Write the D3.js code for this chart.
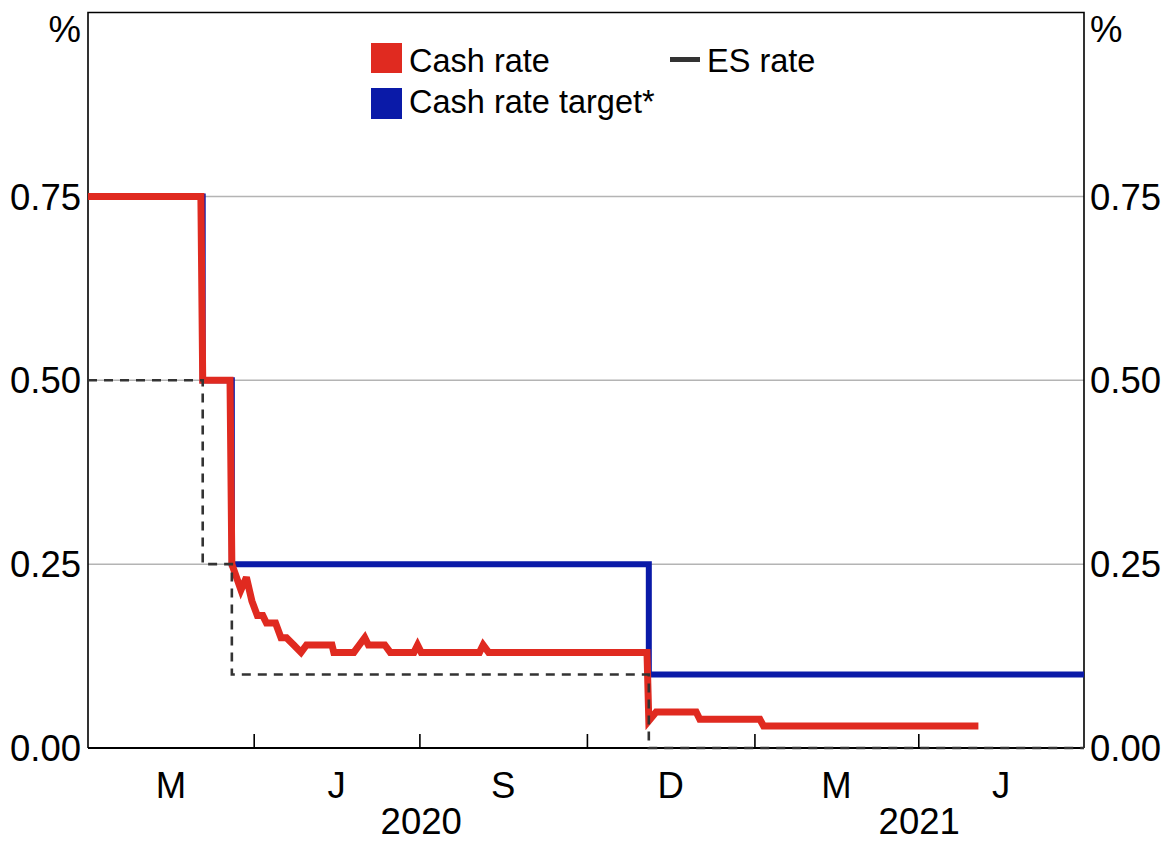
<!DOCTYPE html>
<html>
<head>
<meta charset="utf-8">
<script src="https://cdn.jsdelivr.net/npm/d3@7"></script>
<style>
  body { margin: 0; background: #fff; }
  text { font-family: Arial, 'Liberation Sans', sans-serif; fill: #000; }
</style>
</head>
<body>
<svg id="chart" width="1164" height="843"></svg>
<script>
// cash rate, daily-ish vertices
const cashDates = [
  '2020-01-01', '2020-03-03', '2020-03-04', '2020-03-19', '2020-03-20',
  '2020-03-25', '2020-03-28', '2020-03-31', '2020-04-03', '2020-04-06',
  '2020-04-08', '2020-04-13', '2020-04-16', '2020-04-19', '2020-04-23',
  '2020-04-27', '2020-04-30', '2020-05-14', '2020-05-15', '2020-05-26',
  '2020-05-29', '2020-06-01', '2020-06-03', '2020-06-12', '2020-06-15',
  '2020-06-28', '2020-06-30', '2020-07-02', '2020-08-03', '2020-08-05',
  '2020-08-08', '2020-11-03', '2020-11-04', '2020-11-08', '2020-11-30',
  '2020-12-02', '2021-01-04', '2021-01-06', '2021-05-04'
]
const cashValues = [
  0.75, 0.75, 0.50, 0.50, 0.25,
  0.215, 0.232, 0.20, 0.18, 0.18,
  0.17, 0.17, 0.15, 0.15, 0.14,
  0.13, 0.14, 0.14, 0.13, 0.13,
  0.14, 0.15, 0.14, 0.14, 0.13,
  0.13, 0.14, 0.13, 0.13, 0.14,
  0.13, 0.13, 0.037, 0.049, 0.049,
  0.039, 0.039, 0.03, 0.03
]

// cash rate target (step)
const targetDates = ['2020-01-01', '2020-03-04', '2020-03-20', '2020-11-04', '2021-07-01']
const targetValues = [0.75, 0.50, 0.25, 0.10, 0.10]

// exchange settlement rate (step)
const esDates = ['2020-01-01', '2020-03-04', '2020-03-20', '2020-11-04', '2021-07-01']
const esValues = [0.50, 0.25, 0.10, 0.00, 0.00]

const yTicks = [0, 0.25, 0.5, 0.75]
const quarterLabels = ['M', 'J', 'S', 'D', 'M', 'J']
const yearLabels = ['2020', '2021']

const RED = '#e02a20', BLUE = '#0a1aa8', DARK = '#333333'
const AXIS_FONT = 36.5, LEGEND_FONT = 32.5

let svg = d3.select('#chart'),
    plotLeft = 88, plotRight = 1084, plotTop = 12.5, plotBottom = 748,
    parse = d3.utcParse('%Y-%m-%d'),
    start = parse('2020-01-01'),
    end = parse('2021-07-01')

let x = d3.scaleUtc().domain([start, end]).range([plotLeft, plotRight]),
    y = d3.scaleLinear().domain([0, 1]).range([plotBottom, plotTop])

let zip = (ds, vs) => ds.map((d, i) => ({date: parse(d), value: vs[i]}))
let cash = zip(cashDates, cashValues),
    target = zip(targetDates, targetValues),
    es = zip(esDates, esValues)

// gridlines
svg.append('g')
  .selectAll('line')
  .data(yTicks.filter(d => d > 0))
  .join('line')
  .attr('x1', plotLeft).attr('x2', plotRight)
  .attr('y1', d => y(d)).attr('y2', d => y(d))
  .attr('stroke', '#b4b4b4')
  .attr('stroke-width', 1.5)

// frame: top, left, right
svg.append('path')
  .attr('d', `M${plotLeft},${plotBottom}V${plotTop}H${plotRight}V${plotBottom}`)
  .attr('fill', 'none')
  .attr('stroke', '#000')
  .attr('stroke-width', 1.6)

// bottom axis with inward quarter ticks
let quarters = d3.utcMonth.every(3).range(start, d3.utcDay.offset(end, 1))
let xAxis = d3.axisBottom(x)
  .tickValues(quarters.slice(1, -1))
  .tickSize(-14)
  .tickFormat('')
let gx = svg.append('g')
  .attr('transform', `translate(0,${plotBottom})`)
  .call(xAxis)
gx.select('.domain').attr('stroke', '#000').attr('stroke-width', 2).attr('d', `M${plotLeft},0H${plotRight}`)
gx.selectAll('.tick line').attr('stroke', '#000').attr('stroke-width', 1.6)

// quarter labels, centred in each quarter
svg.append('g')
  .selectAll('text')
  .data(quarterLabels)
  .join('text')
  .attr('x', (d, i) => (x(quarters[i]) + x(quarters[i + 1])) / 2)
  .attr('y', 798)
  .attr('text-anchor', 'middle')
  .attr('font-size', AXIS_FONT)
  .text(d => d)

let yearEdges = [start, parse('2021-01-01'), end]
svg.append('g')
  .selectAll('text')
  .data(yearLabels)
  .join('text')
  .attr('x', (d, i) => (x(yearEdges[i]) + x(yearEdges[i + 1])) / 2)
  .attr('y', 834)
  .attr('text-anchor', 'middle')
  .attr('font-size', AXIS_FONT)
  .text(d => d)

// y labels both sides
let yFmt = d3.format('.2f')
svg.append('g')
  .selectAll('text')
  .data(yTicks)
  .join('text')
  .attr('x', plotLeft - 7)
  .attr('y', d => y(d))
  .attr('dy', '0.36em')
  .attr('text-anchor', 'end')
  .attr('font-size', AXIS_FONT)
  .text(yFmt)
svg.append('g')
  .selectAll('text')
  .data(yTicks)
  .join('text')
  .attr('x', plotRight + 6)
  .attr('y', d => y(d))
  .attr('dy', '0.36em')
  .attr('text-anchor', 'start')
  .attr('font-size', AXIS_FONT)
  .text(yFmt)
svg.append('text').attr('x', plotLeft - 7).attr('y', 42).attr('text-anchor', 'end').attr('font-size', AXIS_FONT).text('%')
svg.append('text').attr('x', plotRight + 6).attr('y', 42).attr('text-anchor', 'start').attr('font-size', AXIS_FONT).text('%')

// series
let stepLine = d3.line().x(d => x(d.date)).y(d => y(d.value)).curve(d3.curveStepAfter)
let plainLine = d3.line().x(d => x(d.date)).y(d => y(d.value))

svg.append('path')
  .datum(target)
  .attr('d', stepLine)
  .attr('fill', 'none')
  .attr('stroke', BLUE)
  .attr('stroke-width', 6)

svg.append('path')
  .datum(cash)
  .attr('d', plainLine)
  .attr('fill', 'none')
  .attr('stroke', RED)
  .attr('stroke-width', 7)
  .attr('stroke-linejoin', 'miter')
  .attr('stroke-miterlimit', 3)

svg.append('path')
  .datum(es)
  .attr('d', stepLine)
  .attr('fill', 'none')
  .attr('stroke', DARK)
  .attr('stroke-width', 2.6)
  .attr('stroke-dasharray', '9,7')

// legend
let legend = svg.append('g').attr('font-size', LEGEND_FONT)
legend.append('rect').attr('x', 371).attr('y', 43).attr('width', 31).attr('height', 30).attr('fill', RED)
legend.append('text').attr('x', 409).attr('y', 72).text('Cash rate')
legend.append('rect').attr('x', 371).attr('y', 88).attr('width', 31).attr('height', 31).attr('fill', BLUE)
legend.append('text').attr('x', 409).attr('y', 113).text('Cash rate target*')
legend.append('line').attr('x1', 670).attr('x2', 700).attr('y1', 59.5).attr('y2', 59.5)
  .attr('stroke', DARK).attr('stroke-width', 5)
legend.append('text').attr('x', 707).attr('y', 72).text('ES rate')
</script>
</body>
</html>
